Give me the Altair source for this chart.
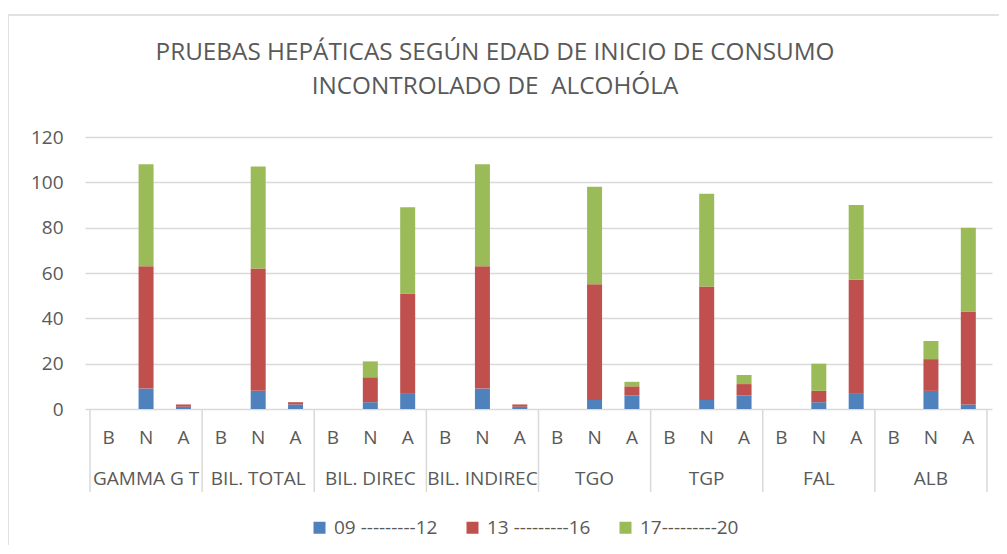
import altair as alt
import pandas as pd

tests = ["GAMMA G T", "BIL. TOTAL", "BIL. DIREC", "BIL. INDIREC", "TGO", "TGP", "FAL", "ALB"]
levels = ["B", "N", "A"]
series = ["09 ---------12", "13 ---------16", "17---------20"]
colors = ["#4F81BD", "#C0504D", "#9BBB59"]
title_lines = ["PRUEBAS HEPÁTICAS SEGÚN EDAD DE INICIO DE CONSUMO",
               "INCONTROLADO DE \u00a0ALCOHÓLA"]

# segment values per test, for levels B, N, A
s1 = {  # 09-12
    "GAMMA G T": [0, 9, 1], "BIL. TOTAL": [0, 8, 2], "BIL. DIREC": [0, 3, 7],
    "BIL. INDIREC": [0, 9, 1], "TGO": [0, 4, 6], "TGP": [0, 4, 6],
    "FAL": [0, 3, 7], "ALB": [0, 8, 2],
}
s2 = {  # 13-16
    "GAMMA G T": [0, 54, 1], "BIL. TOTAL": [0, 54, 1], "BIL. DIREC": [0, 11, 44],
    "BIL. INDIREC": [0, 54, 1], "TGO": [0, 51, 4], "TGP": [0, 50, 5],
    "FAL": [0, 5, 50], "ALB": [0, 14, 41],
}
s3 = {  # 17-20
    "GAMMA G T": [0, 45, 0], "BIL. TOTAL": [0, 45, 0], "BIL. DIREC": [0, 7, 38],
    "BIL. INDIREC": [0, 45, 0], "TGO": [0, 43, 2], "TGP": [0, 41, 4],
    "FAL": [0, 12, 33], "ALB": [0, 8, 37],
}

rows = []
for gi, t in enumerate(tests):
    for li, lv in enumerate(levels):
        for si, (name, src) in enumerate(zip(series, [s1, s2, s3])):
            rows.append({"test": t, "level": lv, "pos": gi * 3 + li + 0.5,
                         "series": name, "order": si, "value": src[t][li]})
df = pd.DataFrame(rows)

lvl_df = pd.DataFrame([{"pos": gi * 3 + li + 0.5, "level": lv}
                       for gi in range(len(tests)) for li, lv in enumerate(levels)])
grp_df = pd.DataFrame([{"pos": gi * 3 + 1.5, "test": t} for gi, t in enumerate(tests)])
sep_df = pd.DataFrame({"pos": [gi * 3 for gi in range(len(tests) + 1)]})

W, H = 907, 272
FONT = "Open Sans"
GRAY = "#595959"
xscale = alt.Scale(domain=[0, 24], nice=False, zero=False)

bars = alt.Chart(df).mark_bar(size=15).encode(
    x=alt.X("pos:Q", scale=xscale, axis=None),
    y=alt.Y("value:Q", stack="zero",
            scale=alt.Scale(domain=[0, 120], nice=False),
            axis=alt.Axis(values=[0, 20, 40, 60, 80, 100, 120], title=None,
                          grid=True, gridColor="#D9D9D9", gridWidth=1.3,
                          domain=False, ticks=False, labelFont=FONT,
                          labelFontSize=19, labelColor=GRAY, labelPadding=22)),
    color=alt.Color("series:N", scale=alt.Scale(domain=series, range=colors),
                    sort=series,
                    legend=alt.Legend(title=None, orient="none", direction="horizontal",
                                      legendX=225, legendY=381, symbolType="square",
                                      symbolSize=144, symbolStrokeWidth=0,
                                      labelFont=FONT, labelFontSize=19,
                                      labelColor=GRAY, labelOffset=5,
                                      columnPadding=25)),
    order=alt.Order("order:Q"),
)

seps = alt.Chart(sep_df).mark_rule(color="#D9D9D9", strokeWidth=1.5).encode(
    x=alt.X("pos:Q", scale=xscale), y=alt.value(H), y2=alt.value(H + 83))

lvl_text = alt.Chart(lvl_df).mark_text(font=FONT, fontSize=19, color=GRAY,
                                       baseline="middle").encode(
    x=alt.X("pos:Q", scale=xscale), y=alt.value(H + 29), text="level:N")

grp_text = alt.Chart(grp_df).mark_text(font=FONT, fontSize=19, color=GRAY,
                                       baseline="middle").encode(
    x=alt.X("pos:Q", scale=xscale), y=alt.value(H + 70), text="test:N")

title1 = alt.Chart(pd.DataFrame({"t": [title_lines[0]]})).mark_text(
    font=FONT, fontSize=24.3, color=GRAY, baseline="middle", align="center").encode(
    x=alt.value(410), y=alt.value(-84), text="t:N")
title2 = alt.Chart(pd.DataFrame({"t": [title_lines[1]]})).mark_text(
    font=FONT, fontSize=24.3, color=GRAY, baseline="middle", align="center").encode(
    x=alt.value(410), y=alt.value(-50), text="t:N")

border = alt.Chart(pd.DataFrame({"a": [0]})).mark_rule(color="#D9D9D9", strokeWidth=1.5).encode(
    x=alt.value(-77), y=alt.value(-122), y2=alt.value(H + 300))
border_top = alt.Chart(pd.DataFrame({"a": [0]})).mark_rule(color="#D9D9D9", strokeWidth=1.5).encode(
    x=alt.value(-77), x2=alt.value(W + 30), y=alt.value(-122))

chart = alt.layer(border, border_top, bars, seps, lvl_text, grp_text, title1, title2).properties(
    width=W, height=H,
    autosize=alt.AutoSizeParams(type="none"),
    padding={"left": 77, "top": 129, "right": 7, "bottom": 136},
).configure_view(stroke=None)

chart.save("out.html", embed_options={"renderer": "svg", "actions": False})
